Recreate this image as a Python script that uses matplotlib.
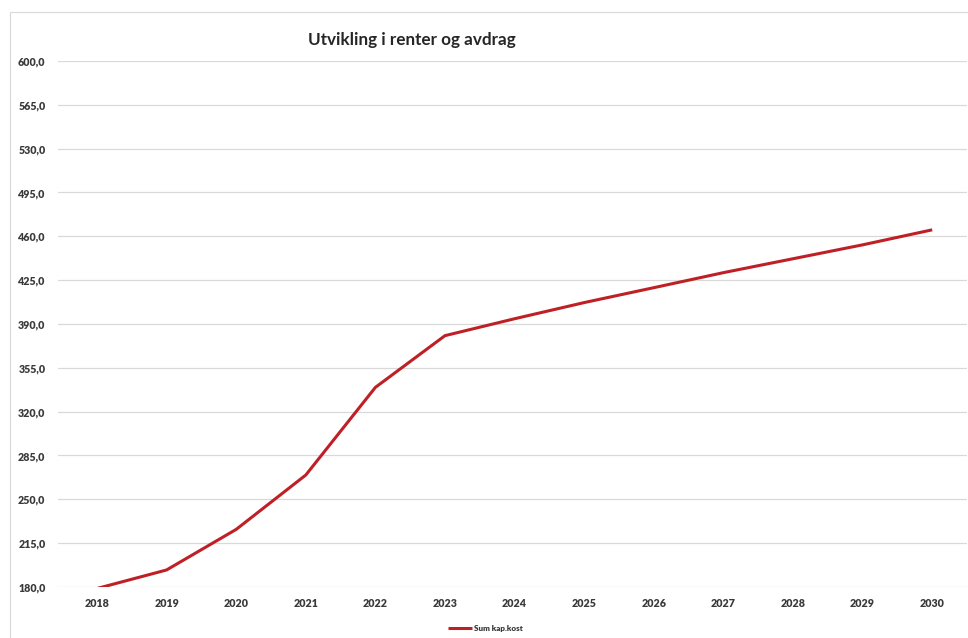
import matplotlib
matplotlib.use('Agg')
import matplotlib.pyplot as plt
import matplotlib.patches as patches
from matplotlib.ticker import FuncFormatter

# data
years = [2018, 2019, 2020, 2021, 2022, 2023, 2024, 2025, 2026, 2027, 2028, 2029, 2030]
sum_kap_kost = [178.8, 193.6, 226.0, 269.4, 339.4, 380.7, 394.2, 407.1, 419.0, 431.0, 442.1, 453.2, 465.2]
y_ticks = [180, 215, 250, 285, 320, 355, 390, 425, 460, 495, 530, 565, 600]

plt.rcParams['font.family'] = ['Lato', 'DejaVu Sans']
plt.rcParams['font.weight'] = 'heavy'

text_color = '#3a3a3a'
grid_color = '#d9d9d9'
line_color = '#be2026'

fig = plt.figure(figsize=(9.68, 6.38), dpi=100)

# light chart-area border (Excel style)
border = patches.Rectangle((10 / 968, -0.1), 1.1, 1.1 - 12 / 638, transform=fig.transFigure,
                           fill=False, edgecolor=grid_color, linewidth=0.8)
fig.patches.append(border)

ax = fig.add_axes([58 / 968, 1 - 587 / 638, (967 - 58) / 968, (587 - 61) / 638])

ax.plot(years, sum_kap_kost, color=line_color, linewidth=2.2, label='Sum kap.kost',
        solid_capstyle='butt')

ax.set_ylim(180, 600)
ax.set_xlim(2018 - 0.56, 2030 + 0.5)
ax.set_yticks(y_ticks)
ax.set_xticks(years)
ax.yaxis.set_major_formatter(FuncFormatter(lambda v, p: f'{v:.1f}'.replace('.', ',')))

ax.grid(True, axis='y', color=grid_color, linewidth=0.9)
ax.set_axisbelow(True)
for s in ax.spines.values():
    s.set_visible(False)
ax.tick_params(axis='both', length=0, labelsize=7.7, colors=text_color)
ax.tick_params(axis='y', pad=9)
ax.tick_params(axis='x', pad=8)

fig.text(412 / 968, 1 - 40 / 638, 'Utvikling i renter og avdrag', ha='center', va='center',
         fontsize=12.3, fontweight='bold', color='#262626')

leg = fig.legend(loc='center', bbox_to_anchor=(485 / 968, 1 - 628 / 638), frameon=False,
                 handlelength=3.0, handletextpad=0.2,
                 prop={'size': 5.8, 'weight': 'heavy'})
for t in leg.get_texts():
    t.set_color(text_color)

fig.savefig('out.png', dpi=100)
